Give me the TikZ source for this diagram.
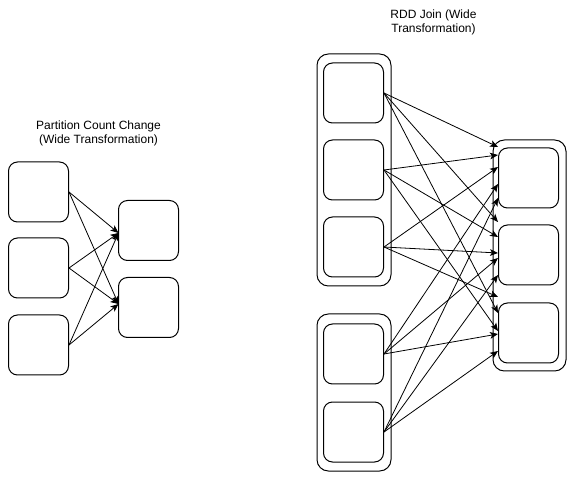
\documentclass[tikz,border=0pt]{standalone}
\usepackage{fontspec}
\setmainfont{Liberation Sans}
\usetikzlibrary{arrows.meta}
\begin{document}
\begin{tikzpicture}[x=0.75pt,y=-0.75pt,
  part/.style={draw=black,line width=0.75pt,rounded corners=6.75pt,minimum width=45pt,minimum height=45pt,inner sep=0pt},
  group/.style={draw=black,line width=0.75pt,rounded corners=8.5pt,inner sep=0pt},
  conn/.style={line width=0.6pt,-{Stealth[length=6pt,width=5pt,inset=1.5pt]}},
  lbl/.style={font=\fontsize{9pt}{10.5pt}\selectfont,align=center,inner sep=0pt}]
\useasboundingbox (0,0) rectangle (578,484);
% titles
\node[lbl] (tl) at (98.5,133) {Partition Count Change\\(Wide Transformation)};
\node[lbl] (tr) at (433.5,22) {RDD Join (Wide\\Transformation)};
% left group
\node[part] (L1) at (38.5,192) {};
\node[part] (L2) at (38.5,268) {};
\node[part] (L3) at (38.5,345) {};
\node[part] (R1) at (148.5,230.5) {};
\node[part] (R2) at (148.5,307.5) {};
\coordinate (ra) at (118.5,233);
\coordinate (rb) at (118.5,304);
\foreach \s in {L1,L2,L3}{
  \draw[conn] (\s.east) -- (ra);
  \draw[conn] (\s.east) -- (rb);
}
% right group containers
\node[group,minimum width=55.5pt,minimum height=174pt] (GA) at (354,170) {};
\node[group,minimum width=55.5pt,minimum height=117.75pt] (GB) at (354,392.5) {};
\node[group,minimum width=54.75pt,minimum height=173.25pt] (GC) at (529.5,255.5) {};
\node[part] (S1) at (353.5,93) {};
\node[part] (S2) at (353.5,170) {};
\node[part] (S3) at (353.5,247) {};
\node[part] (S4) at (353.5,354) {};
\node[part] (S5) at (353.5,432) {};
\node[part] (T1) at (528.5,178) {};
\node[part] (T2) at (528.5,255) {};
\node[part] (T3) at (528.5,333) {};
% arrow end points
\coordinate (e11) at (498,147);
\coordinate (e21) at (498,155);
\coordinate (e31) at (498,167);
\coordinate (e41) at (498,184);
\coordinate (e51) at (498,198);
\coordinate (e12) at (498,222);
\coordinate (e22) at (498,237);
\coordinate (e32) at (498,253);
\coordinate (e42) at (498,258);
\coordinate (e52) at (498,275);
\coordinate (e13) at (498,313);
\coordinate (e23) at (498,331);
\coordinate (e33) at (498,297);
\coordinate (e43) at (498,334);
\coordinate (e53) at (498,351);
\foreach \i in {1,...,5}{
  \foreach \j in {1,2,3}{
    \draw[conn] (S\i.east) -- (e\i\j);
  }
}
\end{tikzpicture}
\end{document}
